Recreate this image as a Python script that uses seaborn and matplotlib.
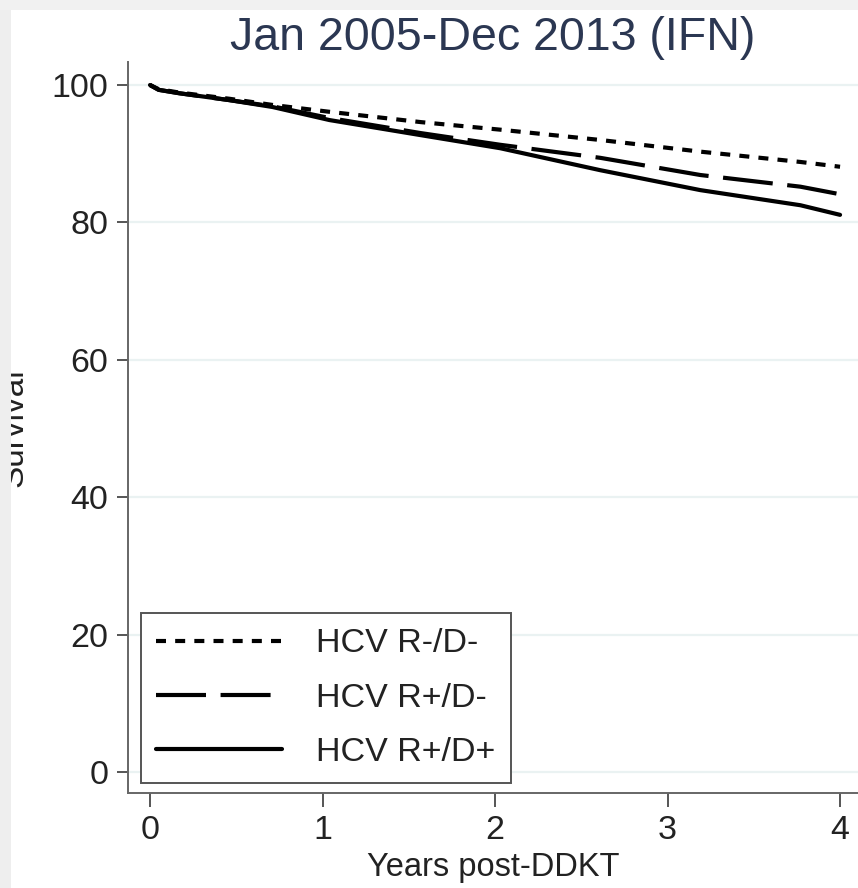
import numpy as np
import pandas as pd
import matplotlib
matplotlib.use("Agg")
import matplotlib.pyplot as plt
from matplotlib.patches import Rectangle
from matplotlib.lines import Line2D
import seaborn as sns

sns.set_theme(style="white")
plt.rcParams["font.family"] = ["Liberation Sans", "DejaVu Sans"]

# Kaplan-Meier style survival estimates (%), by HCV recipient/donor status
years = [0, 0.05, 0.17, 0.46, 0.71, 1.04, 1.57, 2.03, 2.61, 3.19, 3.77, 4.0]
surv_rneg_dneg = [100, 99.4, 98.9, 98.0, 97.1, 96.1, 94.6, 93.5, 92.0, 90.3, 88.8, 88.1]
surv_rpos_dneg = [100, 99.3, 98.8, 97.8, 96.9, 95.2, 93.0, 91.3, 89.4, 86.9, 85.2, 84.1]
surv_rpos_dpos = [100, 99.3, 98.8, 97.8, 96.8, 94.9, 92.7, 90.8, 87.6, 84.7, 82.5, 81.1]
groups = ["HCV R-/D-", "HCV R+/D-", "HCV R+/D+"]
x_ticks = [0, 1, 2, 3, 4]
y_ticks = [0, 20, 40, 60, 80, 100]

df = pd.concat([
    pd.DataFrame({"years": years, "survival": s, "group": g})
    for g, s in zip(groups, [surv_rneg_dneg, surv_rpos_dneg, surv_rpos_dpos])
], ignore_index=True)

LW = 3.0
dash_map = {"HCV R-/D-": (2.4, 2.2), "HCV R+/D-": (12, 3.5), "HCV R+/D+": ""}

fig = plt.figure(figsize=(8.58, 8.88), dpi=100)
fig.patch.set_facecolor("white")
ax = fig.add_axes([128 / 858, 95 / 888, 730 / 858, 731 / 888])

sns.lineplot(data=df, x="years", y="survival", style="group", style_order=groups,
             dashes=dash_map, color="black", linewidth=LW, estimator=None,
             legend=False, ax=ax)

ax.set_xlim(-0.1275, 4.104)
ax.set_ylim(-3.06, 103.35)
ax.set_xticks(x_ticks)
ax.set_yticks(y_ticks)
ax.set_xticklabels([str(t) for t in x_ticks])
ax.set_yticklabels([str(t) for t in y_ticks])
ax.tick_params(axis="y", direction="out", length=8, width=1.4, color="#555555",
               labelsize=24.5, labelcolor="#222222", pad=6, left=True)
ax.tick_params(axis="x", direction="out", length=10, width=1.4, color="#555555",
               labelsize=24.5, labelcolor="#222222", pad=6, bottom=True)
ax.yaxis.grid(True, color="#eaf2f2", linewidth=1.6)
ax.set_axisbelow(True)
for side in ["top", "right"]:
    ax.spines[side].set_visible(False)
for side in ["left", "bottom"]:
    ax.spines[side].set_color("#666666")
    ax.spines[side].set_linewidth(1.4)

ax.set_xlabel("Years post-DDKT", fontsize=23.5, color="#222222", labelpad=4)
ax.set_ylabel("")

fig.text(493 / 858, 1 - 50 / 888, "Jan 2005-Dec 2013 (IFN)", fontsize=33.5,
         color="#2b3752", ha="center", va="baseline")
# y-axis title sits partly under the left margin strip
fig.text(29 / 858, 1 - 428 / 888, "Survival", rotation=90, fontsize=24,
         color="#222222", ha="right", va="center")

handles = [Line2D([0], [0], color="black", linewidth=LW,
                  linestyle=(0, dash_map[g]) if dash_map[g] else "-") for g in groups]
leg = ax.legend(handles, groups, loc="lower left",
                bbox_to_anchor=(141 / 858, 1 - 783 / 888), bbox_transform=fig.transFigure,
                fontsize=24.5, handlelength=3.7, handletextpad=1.0, labelspacing=0.68,
                borderpad=0.45, fancybox=False, framealpha=1, borderaxespad=0)
leg.get_frame().set_edgecolor("#555555")
leg.get_frame().set_linewidth(1.4)
for t in leg.get_texts():
    t.set_color("#222222")

# light grey slide margin along the left and top edges
fig.add_artist(Rectangle((0, 0), 11 / 858, 1, transform=fig.transFigure,
                         facecolor="#eeeeee", edgecolor="none", zorder=20))
fig.add_artist(Rectangle((0, 1 - 10 / 888), 1, 10 / 888, transform=fig.transFigure,
                         facecolor="#f1f1f1", edgecolor="none", zorder=20))

fig.savefig("out.png", dpi=100, facecolor=fig.get_facecolor())
